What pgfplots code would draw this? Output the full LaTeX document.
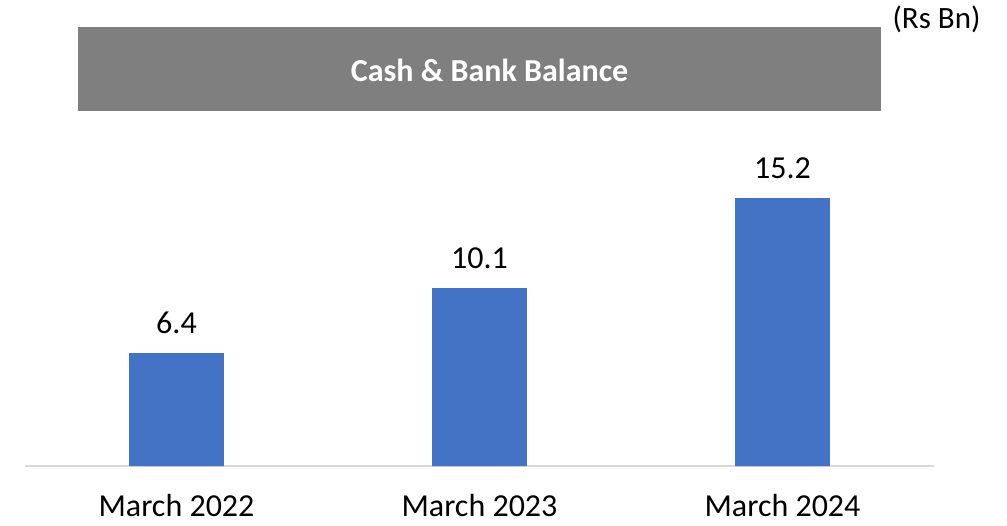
\documentclass[border=0pt]{standalone}
\usepackage{pgfplots}
\pgfplotsset{compat=1.18}
\usepackage{fontspec}
\setmainfont{Carlito}
\definecolor{barblue}{HTML}{4472C4}
\definecolor{bannergray}{HTML}{7F7F7F}
\definecolor{axisgray}{HTML}{D9D9D9}
\begin{document}
\begin{tikzpicture}
\begin{axis}[
  at={(25bp,60bp)}, anchor=south west,
  scale only axis,
  width=909bp, height=352.4bp,
  xmin=-0.5, xmax=2.5, ymin=0, ymax=20,
  axis x line*=bottom,
  hide y axis,
  x axis line style={draw=axisgray, line width=1.5bp},
  xtick=data,
  xticklabels={March 2022, March 2023, March 2024},
  xtick style={draw=none},
  xticklabel style={anchor=base, inner sep=0pt, yshift=-46bp, font=\fontsize{32bp}{38bp}\selectfont},
  ybar, bar width=94.7bp,
  clip=false,
  nodes near coords,
  /pgf/number format/assume math mode=true,
  /pgf/number format/fixed, /pgf/number format/fixed zerofill, /pgf/number format/precision=1,
  nodes near coords style={anchor=base, inner sep=0pt, yshift=20bp, font=\fontsize{32bp}{38bp}\selectfont},
]
\addplot[fill=barblue, draw=none] coordinates {(0,6.4) (1,10.1) (2,15.2)};
\end{axis}
\fill[bannergray] (78bp,415.3bp) rectangle (881bp,498.7bp);
\node[anchor=base, inner sep=0pt, text=white, font=\fontsize{32bp}{38bp}\selectfont\bfseries] at (489.5bp,444bp) {Cash \& Bank Balance};
\node[anchor=base, inner sep=0pt, font=\fontsize{31bp}{37bp}\selectfont] at (936.5bp,497bp) {(Rs Bn)};
\pgfresetboundingbox
\path[use as bounding box] (0,0) rectangle (1007bp,526bp);
\end{tikzpicture}
\end{document}
